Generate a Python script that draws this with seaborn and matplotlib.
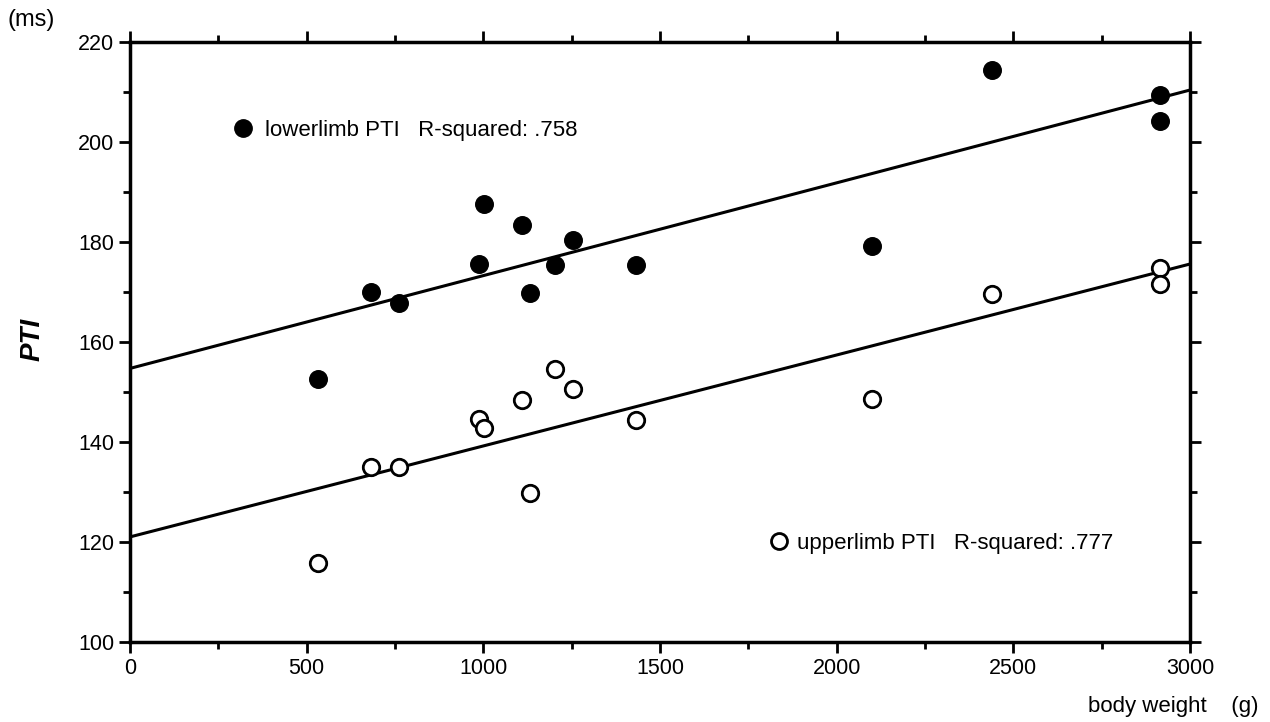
import seaborn as sns
import matplotlib.pyplot as plt
from matplotlib.ticker import MultipleLocator
from matplotlib.lines import Line2D
import numpy as np

# Data
body_weight = np.array([533, 682, 760, 988, 1002, 1109, 1131, 1202, 1253, 1431,
                        2101, 2441, 2916, 2916])
lower_pti = np.array([152.6, 170.1, 167.9, 175.6, 187.7, 183.5, 169.9, 175.4,
                      180.5, 175.4, 179.2, 214.4, 209.4, 204.3])
upper_pti = np.array([115.9, 135.1, 135.1, 144.6, 142.9, 148.5, 129.9, 154.6,
                      150.6, 144.5, 148.6, 169.7, 174.9, 171.7])
labels = ['lowerlimb PTI   R-squared: .758', 'upperlimb PTI   R-squared: .777']

sns.set_style('ticks')
plt.rcParams['font.family'] = ['Liberation Sans', 'DejaVu Sans']
plt.rcParams['text.color'] = 'black'

fig = plt.figure(figsize=(12.7, 7.22), dpi=100)
ax = fig.add_axes([0.1024, 0.1108, 0.8346, 0.831])
ax.set_xlim(0, 3000)
ax.set_ylim(100, 220)

line_kw = dict(color='black', lw=2.2)
sns.regplot(x=body_weight, y=lower_pti, ax=ax, ci=None, truncate=False,
            scatter=False, line_kws=line_kw)
sns.regplot(x=body_weight, y=upper_pti, ax=ax, ci=None, truncate=False,
            scatter=False, line_kws=line_kw)
sns.scatterplot(x=body_weight, y=lower_pti, ax=ax, s=160, color='black',
                edgecolor='black', linewidth=1, zorder=3)
sns.scatterplot(x=body_weight, y=upper_pti, ax=ax, s=140, facecolor='white',
                edgecolor='black', linewidth=2, zorder=3)

ax.set_xlim(0, 3000)
ax.set_ylim(100, 220)
ax.xaxis.set_major_locator(MultipleLocator(500))
ax.xaxis.set_minor_locator(MultipleLocator(250))
ax.yaxis.set_major_locator(MultipleLocator(20))
ax.yaxis.set_minor_locator(MultipleLocator(10))
ax.tick_params(which='both', direction='out', top=True, right=True,
               width=2, colors='black', labelsize=15.5)
ax.tick_params(which='major', length=8)
ax.tick_params(which='minor', length=5)
for sp in ax.spines.values():
    sp.set_linewidth(2.5)
    sp.set_color('black')

ax.set_ylabel('PTI', fontsize=20, fontweight='bold', fontstyle='italic',
              color='black')
ax.yaxis.set_label_coords(-0.08, 0.505)

h_filled = Line2D([], [], ls='none', marker='o', ms=12.5, color='black')
h_open = Line2D([], [], ls='none', marker='o', ms=11.5, mfc='white',
                mec='black', mew=2)
leg1 = ax.legend([h_filled], [labels[0]], loc='center left',
                 bbox_to_anchor=(0.0961, 0.853), frameon=False, fontsize=16,
                 borderpad=0, borderaxespad=0, handlelength=1,
                 handletextpad=0.49, labelcolor='black')
ax.add_artist(leg1)
ax.legend([h_open], [labels[1]], loc='center left',
          bbox_to_anchor=(0.6018, 0.165), frameon=False, fontsize=16,
          borderpad=0, borderaxespad=0, handlelength=1, handletextpad=0.31,
          labelcolor='black')

fig.text(0.006, 0.972, '(ms)', fontsize=17, va='center', ha='left')
fig.text(0.9906, 0.021, 'body weight    (g)', fontsize=16, va='center',
         ha='right')

fig.savefig('out.png', dpi=100)
